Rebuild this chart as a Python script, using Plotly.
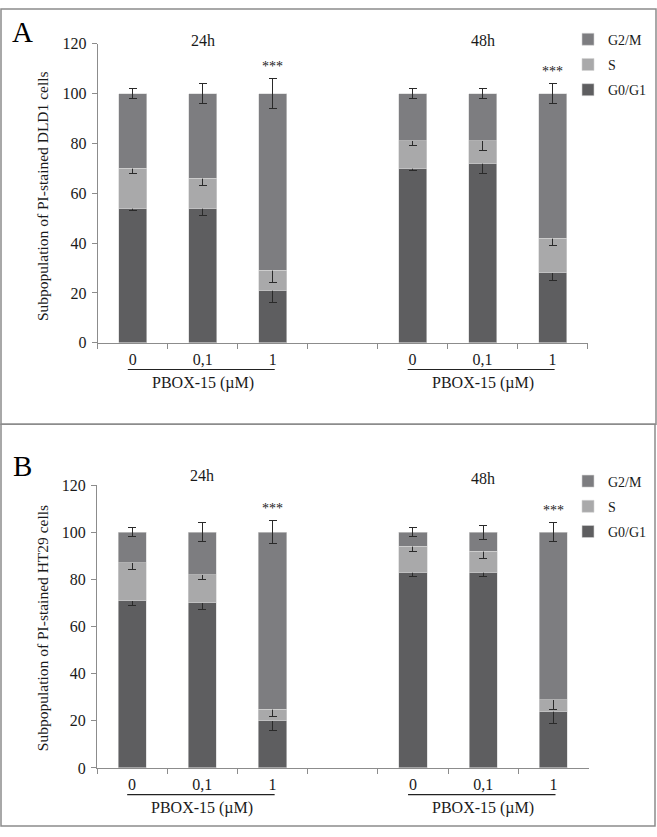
import plotly.graph_objects as go

# ---------------- data ----------------
times = ["24h", "48h"]
doses = ["0", "0,1", "1"]
phases = ["G0/G1", "S", "G2/M"]
legend_rank = {"G2/M": 1, "S": 2, "G0/G1": 3}

# Panel A (DLD1): segment heights per bar (24h: 0, 0.1, 1 ; 48h: 0, 0.1, 1)
a_g0g1 = [54, 54, 21, 70, 72, 28]
a_g0g1_err = [1, 3, 5, 1, 4, 3]
a_s = [16, 12, 8, 11, 9, 14]
a_s_err = [2, 3, 5, 2, 4, 3]
a_g2m = [30, 34, 71, 19, 19, 58]
a_g2m_err = [2, 4, 6, 2, 2, 4]

# Panel B (HT29)
b_g0g1 = [71, 70, 20, 83, 83, 24]
b_g0g1_err = [2, 3, 4, 2, 2, 5]
b_s = [16, 12, 5, 11, 9, 5]
b_s_err = [3, 2, 3, 2, 3, 4]
b_g2m = [13, 18, 75, 6, 8, 71]
b_g2m_err = [2, 4, 5, 2, 3, 4]

signif = ["", "", "***", "", "", "***"]
yticks = [0, 20, 40, 60, 80, 100, 120]

# ---------------- style ----------------
colors = {"G0/G1": "#5e5e60", "S": "#a9a9aa", "G2/M": "#7d7d80"}
SERIF = "Liberation Serif"
TXT = "#1a1a1a"
GRID = "#8c8c8c"
W, H = 657, 837

bar_keys = [f"{t} {d}" for t in times for d in doses]
cat_array = bar_keys[:3] + ["gap"] + bar_keys[3:]
tick_text = doses + [""] + doses

fig = go.Figure()

panels = [
    dict(vals=[a_g0g1, a_s, a_g2m], errs=[a_g0g1_err, a_s_err, a_g2m_err],
         xa="x", ya="y", legend="legend"),
    dict(vals=[b_g0g1, b_s, b_g2m], errs=[b_g0g1_err, b_s_err, b_g2m_err],
         xa="x2", ya="y2", legend="legend2"),
]

for pi, p in enumerate(panels):
    for ph, v, e in zip(phases, p["vals"], p["errs"]):
        fig.add_trace(go.Bar(
            x=bar_keys, y=v, name=ph, width=0.4,
            marker=dict(color=colors[ph], line=dict(color="#d4d4d4", width=0.6)),
            error_y=dict(type="data", array=e, color="#2a2a2a", thickness=1, width=4),
            xaxis=p["xa"], yaxis=p["ya"], legend=p["legend"],
            legendgroup=f"{pi}-{ph}", legendrank=legend_rank[ph], hoverinfo="skip",
        ))

def xaxis_style(domain, anchor):
    return dict(
        domain=domain, anchor=anchor, type="category",
        categoryorder="array", categoryarray=cat_array,
        tickvals=cat_array, ticktext=tick_text,
        range=[-0.5, 6.5], tickson="boundaries",
        ticks="outside", ticklen=5, tickcolor=GRID, tickwidth=1,
        showline=True, linecolor=GRID, linewidth=1,
        showgrid=False, zeroline=False,
        tickfont=dict(family=SERIF, size=16, color=TXT),
        ticklabelstandoff=2, fixedrange=True,
    )

def yaxis_style(domain, anchor):
    return dict(
        domain=domain, anchor=anchor, range=[0, 120],
        tickvals=yticks, ticks="outside", ticklen=5, tickcolor=GRID,
        showline=True, linecolor=GRID, linewidth=1,
        showgrid=False, zeroline=False,
        tickfont=dict(family=SERIF, size=16, color=TXT),
        ticklabelstandoff=2, fixedrange=True,
    )

def py(pix):
    return (H - pix) / H

def px(pix):
    return pix / W

legend_common = dict(
    font=dict(family=SERIF, size=14, color=TXT),
    traceorder="grouped", tracegroupgap=4,
    bgcolor="rgba(0,0,0,0)", xanchor="left", yanchor="top",
    itemclick=False, itemdoubleclick=False,
)

fig.update_layout(
    autosize=True,
    margin=dict(l=0, r=0, t=0, b=0),
    paper_bgcolor="white", plot_bgcolor="white",
    barmode="stack",
    showlegend=True,
    xaxis=xaxis_style([px(97.7), px(587.5)], "y"),
    yaxis=yaxis_style([py(341.7), py(36.4)], "x"),
    xaxis2=xaxis_style([px(97.0), px(588.5)], "y2"),
    yaxis2=yaxis_style([py(775.7), py(486.9)], "x2"),
    legend=dict(x=px(568), y=py(16), **legend_common),
    legend2=dict(x=px(568), y=py(467), **legend_common),
)

annotations = []
shapes = []

panel_meta = [
    dict(letter="A", letter_y=24, cell="DLD1", xa="x", ya="y",
         time_y=[33, 33], line_y=369, pbox_y=383, title_y=192,
         vals=[a_g0g1, a_s, a_g2m], errs=a_g2m_err,
         box=[1, 1, 656, 425]),
    dict(letter="B", letter_y=468, cell="HT29", xa="x2", ya="y2",
         time_y=[477, 480], line_y=803, pbox_y=817, title_y=633,
         vals=[b_g0g1, b_s, b_g2m], errs=b_g2m_err,
         box=[1, 425, 655, 835]),
]

for m in panel_meta:
    annotations.append(dict(
        text=m["letter"], xref="paper", yref="paper", x=px(22), y=py(m["letter_y"]),
        showarrow=False, font=dict(family=SERIF, size=29, color="black"),
        xanchor="center", yanchor="middle"))
    annotations.append(dict(
        text=f"Subpopulation of PI-stained {m['cell']} cells",
        xref="paper", yref="paper", x=px(42), y=py(m["title_y"]),
        textangle=-90, showarrow=False,
        font=dict(family=SERIF, size=15.5, color=TXT),
        xanchor="center", yanchor="middle"))
    for ti, t in enumerate(times):
        mid = f"{t} {doses[1]}"
        annotations.append(dict(
            text=t, xref=m["xa"], yref="paper", x=mid, y=py(m["time_y"][ti]),
            showarrow=False, font=dict(family=SERIF, size=16, color=TXT),
            xanchor="center", yanchor="middle"))
        annotations.append(dict(
            text="PBOX-15 (µM)", xref=m["xa"], yref="paper", x=mid, y=py(m["pbox_y"]),
            showarrow=False, font=dict(family=SERIF, size=16, color=TXT),
            xanchor="center", yanchor="middle"))
        i0 = cat_array.index(f"{t} {doses[0]}")
        i1 = cat_array.index(f"{t} {doses[-1]}")
        shapes.append(dict(
            type="line", xref=m["xa"], yref="paper",
            x0=i0 - 0.07, x1=i1 + 0.03, y0=py(m["line_y"]), y1=py(m["line_y"]),
            line=dict(color="#222222", width=1.2)))
    for k, key in enumerate(bar_keys):
        if signif[k]:
            total = sum(v[k] for v in m["vals"])
            annotations.append(dict(
                text=signif[k], xref=m["xa"], yref=m["ya"], x=key,
                y=total + m["errs"][k], yshift=12, showarrow=False,
                font=dict(family=SERIF, size=14, color=TXT),
                xanchor="center", yanchor="middle"))
    bx = m["box"]
    shapes.append(dict(
        type="rect", xref="paper", yref="paper",
        x0=px(bx[0]), x1=px(bx[2]), y0=py(bx[3]), y1=py(bx[1]),
        line=dict(color=GRID, width=1.5), fillcolor="rgba(0,0,0,0)", layer="below"))

fig.update_layout(annotations=annotations, shapes=shapes)

fig.write_html(
    "out.html",
    default_width="100vw",
    default_height="100vh",
    config={"displayModeBar": False, "responsive": True},
    post_script="document.body.style.margin='0';document.body.style.overflow='hidden';",
)
